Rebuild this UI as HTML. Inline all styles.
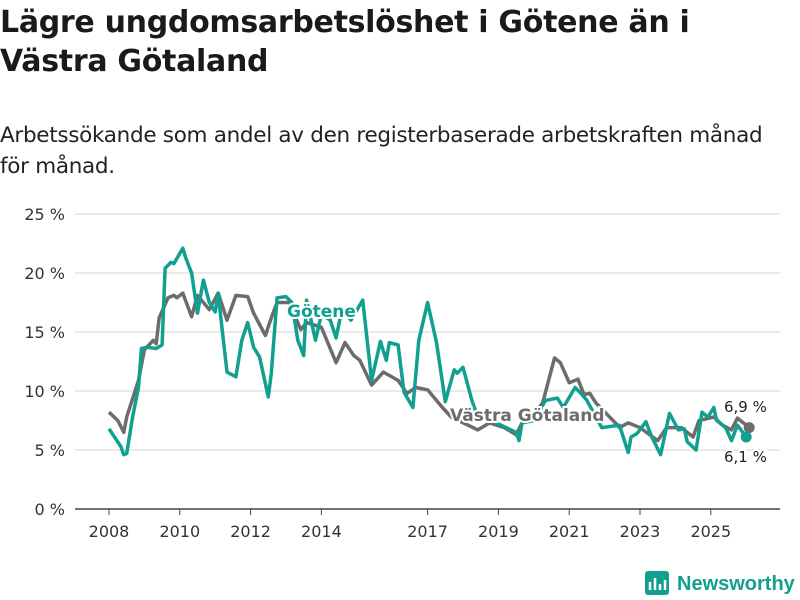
<!DOCTYPE html>
<html><head><meta charset="utf-8"><style>
body{margin:0;background:#fff;font-family:"Liberation Sans","DejaVu Sans",sans-serif;}
#wrap{position:relative;width:800px;height:600px;overflow:hidden}
h1{position:absolute;left:0;top:3px;margin:0;font-size:30px;line-height:39px;font-weight:bold;color:#1a1a1a;font-family:"DejaVu Sans",sans-serif;letter-spacing:-0.3px}
.sub{position:absolute;left:0;top:120px;font-size:21.5px;line-height:31px;color:#222;font-family:"DejaVu Sans",sans-serif;width:790px;letter-spacing:-0.3px}
</style></head><body><div id="wrap">
<h1>Lägre ungdomsarbetslöshet i Götene än i<br>Västra Götaland</h1>
<div class="sub">Arbetssökande som andel av den registerbaserade arbetskraften månad för månad.</div>
<svg id="chart" width="800" height="600" style="position:absolute;left:0;top:0"></svg>
</div>
<script>
const yTicks=[0,5,10,15,20,25];
const xTickYears=[2008,2010,2012,2014,2017,2019,2021,2023,2025];
const goteneMonths=[0,4,5,6,8,10,11,13,16,18,19,21,22,25,26,28,30,32,34,36,37,38,40,43,45,47,49,51,52,54,55,57,60,62,64,66,67,70,72,75,77,79,82,86,89,92,94,95,98,100,103,105,108,111,114,117,118,120,123,125,128,132,138,139,140,144,148,152,154,158,160,162,167,173,176,177,179,182,184,187,190,193,195,196,199,201,203,205,206,209,211,213,216];
const goteneValues=[6.8,5.3,4.6,4.7,7.8,10.3,13.6,13.7,13.6,13.9,20.4,20.9,20.8,22.1,21.3,20,16.6,19.4,17.5,16.7,18.3,16,11.6,11.2,14.3,15.8,13.7,12.9,11.8,9.5,11.5,17.9,18,17.5,14.3,13,17.7,14.3,16.5,16,14.5,17,16,17.7,10.9,14.2,12.6,14.1,13.9,9.9,8.6,14.3,17.5,14.1,9.1,11.8,11.5,12,9.2,7.8,7.8,7.2,6.5,5.8,7.3,7.5,9.2,9.4,8.6,10.3,9.8,9.2,6.9,7.1,4.8,6.1,6.4,7.4,6.1,4.6,8.1,6.7,6.8,5.7,5,8.2,7.8,8.6,7.5,6.9,5.8,7.1,6.1];
const vgMonths=[0,3,5,6,10,12,15,16,17,20,22,23,25,28,30,34,37,40,43,47,49,53,55,57,61,65,67,72,77,80,83,85,89,93,98,101,104,108,113,116,125,129,134,138,140,144,147,151,153,156,159,161,163,165,172,173,176,180,186,189,194,198,200,205,208,211,213,217];
const vgValues=[8.2,7.5,6.5,7.8,10.9,13.5,14.3,14,16.2,17.9,18.1,17.9,18.3,16.3,18.1,16.9,18.3,16,18.1,18,16.6,14.7,16.2,17.5,17.5,15.2,15.8,15.4,12.4,14.1,13,12.6,10.5,11.6,10.9,9.8,10.3,10.1,8.6,7.8,6.7,7.3,6.9,6.3,7.3,8,9,12.8,12.4,10.7,11,9.7,9.8,9,7.2,6.9,7.3,6.9,5.8,6.9,6.9,6.1,7.5,7.8,7.1,6.7,7.7,6.9];
const NS='http://www.w3.org/2000/svg';
const svg=document.getElementById('chart');
const X0=75,X1=780,Y0=509,YPX=11.8;
function xm(m){return 109+m*2.95;}
function xy(yr){return xm((yr-2008)*12);}
function yv(v){return Y0-v*YPX;}
function mk(t,a,p){const e=document.createElementNS(NS,t);for(const k in a)e.setAttribute(k,a[k]);(p||svg).appendChild(e);return e;}
yTicks.forEach(v=>{
 const l=mk('line',{x1:X0,x2:X1,y1:yv(v),y2:yv(v),stroke:v===0?'#444':'#ddd','stroke-width':v===0?1.5:1.2});
 
 
 const t=mk('text',{x:65,y:yv(v)+6,'text-anchor':'end','font-size':16,fill:'#333','font-family':'DejaVu Sans, sans-serif'});
 t.textContent=v+' %';
 
 
});
xTickYears.forEach(yr=>{
 const l=mk('line',{x1:xy(yr),x2:xy(yr),y1:Y0,y2:Y0+6,stroke:'#444','stroke-width':1});
 
 
 const t=mk('text',{x:xy(yr),y:Y0+28,'text-anchor':'middle','font-size':16,fill:'#333','font-family':'DejaVu Sans, sans-serif'});
 t.textContent=yr;
 
 
});
function line(ms,vs,col,name){
 const d=ms.map((m,i)=>(i?'L':'M')+xm(m).toFixed(1)+','+yv(vs[i]).toFixed(1)).join('');
 const p=mk('path',{d:d,fill:'none',stroke:col,'stroke-width':3.5,'stroke-linejoin':'round'});
 
 
 const n=ms.length-1;
 const c=mk('circle',{cx:xm(ms[n]),cy:yv(vs[n]),r:5.5,fill:col});
 
 
}
line(vgMonths,vgValues,'#6e6b6e','vastra-gotaland-line');
line(goteneMonths,goteneValues,'#11a08f','gotene-line');
function lbl(x,y,txt,col,name,size,bold,halo){
 const t=mk('text',{x:x,y:y,'font-size':size,fill:col,'font-weight':bold?'bold':'normal','font-family':'DejaVu Sans, sans-serif',stroke:halo?'#fff':'none','stroke-width':halo?4:0,'paint-order':'stroke'});
 t.textContent=txt;
 
 
}
lbl(287,317,'Götene','#11a08f','gotene-label',17,true,true);
lbl(450,421,'Västra Götaland','#6e6b6e','vastra-gotaland-label',17,true,true);
lbl(724,412,'6,9 %','#222','vg-end-value',15,false,true);
lbl(724,462,'6,1 %','#222','gotene-end-value',15,false,true);
const g=mk('g',{});


mk('rect',{x:645,y:571,width:24,height:24,rx:3,fill:'#11a08f'},g);
mk('path',{d:'M650,590V582M655,590V578M660,590V584M665,590V580',stroke:'#fff','stroke-width':2.5},g);
const lt=mk('text',{x:677,y:590,'font-size':20,'font-weight':'bold',fill:'#11a08f','font-family':'Liberation Sans, sans-serif'},g);
lt.textContent='Newsworthy';
</script></body></html>
